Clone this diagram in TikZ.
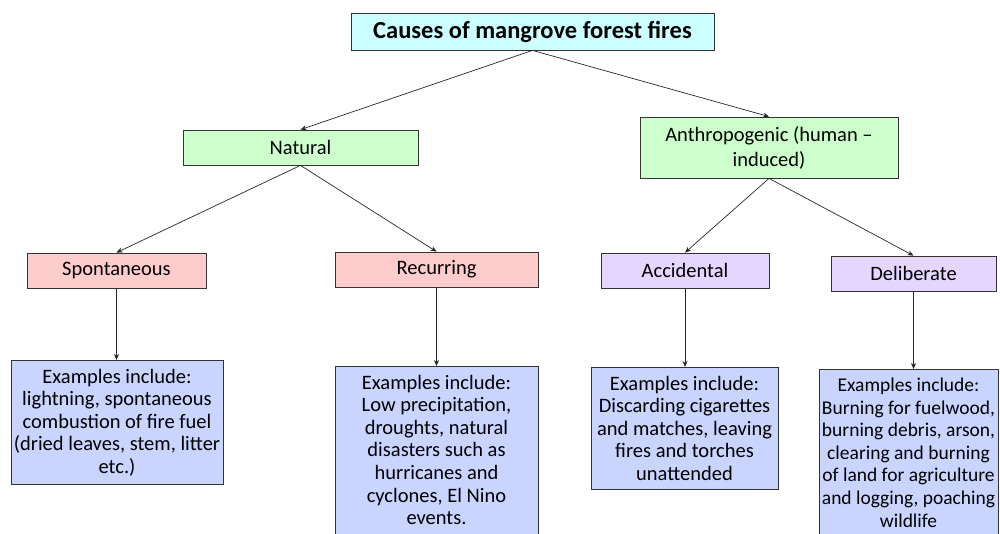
\documentclass[tikz,border=0pt]{standalone}
\usepackage{fontspec}
\setmainfont{Carlito}
\usetikzlibrary{arrows.meta}
\definecolor{titlefill}{RGB}{204,255,255}
\definecolor{greenfill}{RGB}{204,255,204}
\definecolor{pinkfill}{RGB}{255,204,204}
\definecolor{purplefill}{RGB}{229,214,255}
\definecolor{bluefill}{RGB}{201,213,255}
\tikzset{
  box/.style={draw=black!80, line width=0.8pt, inner sep=0pt, align=center, font=\fontsize{20.5}{25}\selectfont},
  exbox/.style={draw=black!80, line width=0.8pt, fill=bluefill, inner xsep=2pt, inner ysep=8.5pt, align=center, font=\fontsize{20.5}{22.6}\selectfont, anchor=north},
  conn/.style={draw=black!85, line width=0.7pt, -{Stealth[length=6pt,width=5pt]}}
}
\begin{document}
\begin{tikzpicture}[x=1pt,y=-1pt]
\useasboundingbox (0,0) rectangle (1000,533);
\clip (0,0) rectangle (1000,533);
\node[box, fill=titlefill, minimum width=363pt, minimum height=37pt, font=\fontsize{24.5}{28}\selectfont\bfseries] (title) at (532.5,31.5) {Causes of mangrove forest fires};
\node[box, fill=greenfill, minimum width=235pt, minimum height=35pt] (nat) at (300.5,147.5) {Natural};
\node[box, fill=greenfill, minimum width=258pt, minimum height=61pt] (ant) at (769,147.5) {Anthropogenic (human –\\induced)};
\node[box, fill=pinkfill, minimum width=179pt, minimum height=35pt] (spo) at (116.5,270.5) {Spontaneous};
\node[box, fill=pinkfill, minimum width=203pt, minimum height=35pt] (rec) at (436.5,269.5) {Recurring};
\node[box, fill=purplefill, minimum width=168pt, minimum height=35pt] (acc) at (685,270.5) {Accidental};
\node[box, fill=purplefill, minimum width=165pt, minimum height=35pt] (del) at (913.5,273.5) {Deliberate};
\node[exbox, minimum width=212pt] (ex1) at (117,360) {Examples include:\\lightning, spontaneous\\combustion of fire fuel\\(dried leaves, stem, litter\\etc.)};
\node[exbox, minimum width=203pt] (ex2) at (436.5,366) {Examples include:\\Low precipitation,\\droughts, natural\\disasters such as\\hurricanes and\\cyclones, El Nino\\events.\\[6pt]};
\node[exbox, minimum width=187pt] (ex3) at (684.5,367) {Examples include:\\Discarding cigarettes\\and matches, leaving\\fires and torches\\unattended};
\node[exbox, minimum width=179pt, font=\fontsize{19.5}{22.6}\selectfont] (ex4) at (908.5,369) {Examples include:\\Burning for fuelwood,\\burning debris, arson,\\clearing and burning\\of land for agriculture\\and logging, poaching\\wildlife\\[6pt]};
\draw[conn] (title.south) -- (nat.north);
\draw[conn] (title.south) -- (ant.north);
\draw[conn] (nat.south) -- (spo.north);
\draw[conn] (nat.south) -- (rec.north);
\draw[conn] (ant.south) -- (acc.north);
\draw[conn] (ant.south) -- (del.north);
\draw[conn] (spo.south) -- (spo.south |- ex1.north);
\draw[conn] (rec.south) -- (rec.south |- ex2.north);
\draw[conn] (acc.south) -- (acc.south |- ex3.north);
\draw[conn] (del.south) -- (del.south |- ex4.north);
\end{tikzpicture}
\end{document}
